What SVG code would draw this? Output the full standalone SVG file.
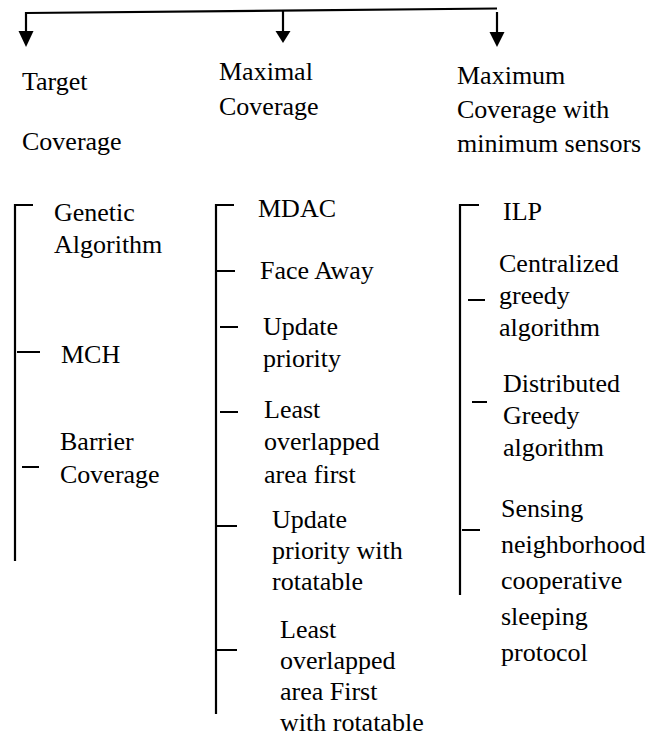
<svg xmlns="http://www.w3.org/2000/svg" width="663" height="746" viewBox="0 0 663 746">
<style>
.t{font-size:26px;fill:#000}
.ln{stroke:#000;stroke-width:2.2;fill:none}
.tk{stroke:#000;stroke-width:2;fill:none}
.ah{fill:#000;stroke:none}
</style>
<rect width="663" height="746" fill="#fff"/>
<g id="connectors">
<path class="ln" d="M26,13 L497,8.5" stroke-width="2.6"/>
<path class="ln" d="M26,12 L26,32"/>
<polygon class="ah" points="18.5,31 33.5,31 26,47"/>
<path class="ln" d="M283,11 L283,32"/>
<polygon class="ah" points="275.5,31 290.5,31 283,43"/>
<path class="ln" d="M497,12 L497,33"/>
<polygon class="ah" points="489.5,32 504.5,32 497,47"/>
<path class="ln" d="M15,204 L15,561"/>
<path class="tk" d="M15,205 L33,205 M17,352 L40,352 M22,467 L39,467"/>
<path class="ln" d="M216,204 L216,714"/>
<path class="tk" d="M216,205 L234,205 M217,271 L235,271 M220,327 L238,327 M220,412 L238,412 M217,526 L237,526 M217,650 L237,650"/>
<path class="ln" d="M460,204 L460,595"/>
<path class="tk" d="M460,205 L479,205 M468,300 L485,300 M472,402 L487,402 M462,530 L480,530"/>
</g>
<g class="t" font-family="'Liberation Serif', 'Times New Roman', 'DejaVu Serif', serif">
<g id="target-coverage"><text x="22" y="90">Target</text><text x="22" y="150">Coverage</text></g>
<g id="maximal-coverage"><text x="219" y="80">Maximal</text><text x="219" y="115">Coverage</text></g>
<g id="maximum-coverage"><text x="457" y="84">Maximum</text><text x="457" y="118">Coverage with</text><text x="457" y="152">minimum sensors</text></g>
<g id="genetic"><text x="54" y="221">Genetic</text><text x="54" y="253">Algorithm</text></g>
<g id="mch"><text x="61" y="363">MCH</text></g>
<g id="barrier"><text x="60" y="450">Barrier</text><text x="60" y="483">Coverage</text></g>
<g id="mdac"><text x="258" y="217">MDAC</text></g>
<g id="face-away"><text x="260" y="279">Face Away</text></g>
<g id="update-priority"><text x="263" y="335">Update</text><text x="263" y="367">priority</text></g>
<g id="least-overlapped"><text x="264" y="418">Least</text><text x="264" y="450">overlapped</text><text x="264" y="483">area first</text></g>
<g id="update-priority-rot"><text x="272" y="528">Update</text><text x="272" y="559">priority with</text><text x="272" y="590">rotatable</text></g>
<g id="least-overlapped-rot"><text x="280" y="638">Least</text><text x="280" y="669">overlapped</text><text x="280" y="700">area First</text><text x="280" y="731">with rotatable</text></g>
<g id="ilp"><text x="503" y="220">ILP</text></g>
<g id="centralized"><text x="499" y="272">Centralized</text><text x="499" y="304">greedy</text><text x="499" y="336">algorithm</text></g>
<g id="distributed"><text x="503" y="392">Distributed</text><text x="503" y="424">Greedy</text><text x="503" y="456">algorithm</text></g>
<g id="sensing"><text x="501" y="517">Sensing</text><text x="501" y="553">neighborhood</text><text x="501" y="589">cooperative</text><text x="501" y="625">sleeping</text><text x="501" y="661">protocol</text></g>
</g>
</svg>
